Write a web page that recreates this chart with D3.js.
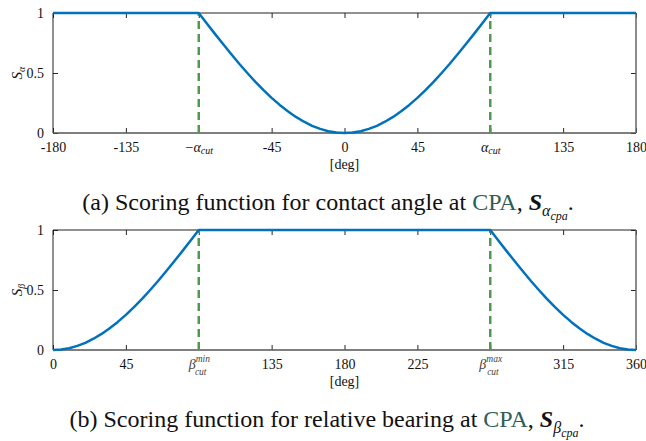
<!DOCTYPE html>
<html><head><meta charset="utf-8">
<script src="https://cdn.jsdelivr.net/npm/d3@7/dist/d3.min.js"></script>
</head>
<body style="margin:0;background:#fff"><svg id="c" width="646" height="441"></svg>
<script>
// Panel (a): contact angle [deg] vs score
const alphaDeg = [-180,-90,-85,-80,-75,-70,-65,-60,-55,-50,-45,-40,-35,-30,-25,-20,-15,-10,-5,0,
                  5,10,15,20,25,30,35,40,45,50,55,60,65,70,75,80,85,90,180];
const alphaScore = [1,1,0.913,0.826,0.741,0.658,0.577,0.5,0.426,0.357,0.293,0.234,0.181,0.134,0.094,0.060,0.034,0.015,0.004,0,
                    0.004,0.015,0.034,0.060,0.094,0.134,0.181,0.234,0.293,0.357,0.426,0.5,0.577,0.658,0.741,0.826,0.913,1,1];
const alphaTicks = [-180,-135,-90,-45,0,45,90,135,180];
const alphaTickLabels = ["-180","-135","CUTNEG","-45","0","45","CUT","135","180"];
const alphaCuts = [-90,90];

// Panel (b): relative bearing [deg] vs score
const betaDeg = [0,5,10,15,20,25,30,35,40,45,50,55,60,65,70,75,80,85,90,
                 270,275,280,285,290,295,300,305,310,315,320,325,330,335,340,345,350,355,360];
const betaScore = [0,0.004,0.015,0.034,0.060,0.094,0.134,0.181,0.234,0.293,0.357,0.426,0.5,0.577,0.658,0.741,0.826,0.913,1,
                   1,0.913,0.826,0.741,0.658,0.577,0.5,0.426,0.357,0.293,0.234,0.181,0.134,0.094,0.060,0.034,0.015,0.004,0];
const betaTicks = [0,45,90,135,180,225,270,315,360];
const betaTickLabels = ["0","45","BMIN","135","180","225","BMAX","315","360"];
const betaCuts = [90,270];

const yTicks = [0,0.5,1];
const yTickLabels = ["0","0.5","1"];

const svg = d3.select("#c");
const X0 = 53, X1 = 636;

function panel(cfg){
  const x = d3.scaleLinear().domain(cfg.domain).range([X0,X1]);
  const y = d3.scaleLinear().domain([0,1]).range([cfg.yb,cfg.yt]);
  const g = svg.append("g");
  const xb = d3.axisBottom(x).tickValues(cfg.ticks).tickSize(-5).tickPadding(9)
     .tickFormat((d,i)=>cfg.labels[i]);
  const gb = g.append("g").attr("transform",`translate(0,${cfg.yb})`).call(xb);
  const xt = d3.axisTop(x).tickValues(cfg.ticks).tickSize(-5).tickFormat("");
  const gt = g.append("g").attr("transform",`translate(0,${cfg.yt})`).call(xt);
  const yl = d3.axisLeft(y).tickValues(yTicks).tickSize(-5).tickPadding(9)
     .tickFormat((d,i)=>yTickLabels[i]);
  const gl = g.append("g").attr("transform",`translate(${X0},0)`).call(yl);
  const yr = d3.axisRight(y).tickValues(yTicks).tickSize(-5).tickFormat("");
  const gr = g.append("g").attr("transform",`translate(${X1},0)`).call(yr);
  [gb,gt,gl,gr].forEach(a=>{
    a.select(".domain").remove();
    a.selectAll(".tick line").attr("stroke","#262626").attr("stroke-width",1);
    a.selectAll(".tick text").attr("fill","#111").attr("font-size","14px");
  });
  // box
  g.append("line").attr("x1",X0).attr("x2",X1).attr("y1",cfg.yt).attr("y2",cfg.yt).attr("stroke","#222").attr("stroke-width",1);
  g.append("line").attr("x1",X0).attr("x2",X0).attr("y1",cfg.yt).attr("y2",cfg.yb).attr("stroke","#222").attr("stroke-width",1);
  g.append("line").attr("x1",X0).attr("x2",X1).attr("y1",cfg.yb).attr("y2",cfg.yb).attr("stroke","#555").attr("stroke-width",1.5);
  g.append("line").attr("x1",X1).attr("x2",X1).attr("y1",cfg.yt).attr("y2",cfg.yb).attr("stroke","#666").attr("stroke-width",1.5);

  // special labels
  gb.selectAll(".tick text").each(function(d,i){
    const t = d3.select(this);
    const lab = cfg.labels[i];
    if(lab==="CUT"||lab==="CUTNEG"){
      t.text("");
      if(lab==="CUTNEG") t.append("tspan").text("\u2212");
      t.append("tspan").attr("font-style","italic").text("\u03b1");
      t.append("tspan").attr("font-style","italic").attr("font-size","10px").attr("dy","2").text("cut");
    } else if(lab==="BMIN"||lab==="BMAX"){
      t.text("").attr("fill","#444");
      t.append("tspan").attr("font-style","italic").text("\u03b2");
      t.append("tspan").attr("font-style","italic").attr("font-size","9.5px").attr("dy","-7").text(lab==="BMIN"?"min":"max");
      t.append("tspan").attr("font-style","italic").attr("font-size","9.5px").attr("dx","-15").attr("dy","13").text("cut");
    }
  });

  // dashed cut lines
  g.selectAll(".cut").data(cfg.cuts).enter().append("line")
    .attr("x1",d=>x(d)).attr("x2",d=>x(d)).attr("y1",y(0)).attr("y2",y(1))
    .attr("stroke","#4e9a4e").attr("stroke-width",2.5).attr("stroke-dasharray","8,5");

  // curve
  const line = d3.line().x((d,i)=>x(cfg.xs[i])).y((d,i)=>y(cfg.ys[i]));
  g.append("path").datum(cfg.xs).attr("d",line).attr("fill","none")
    .attr("stroke","#0072BD").attr("stroke-width",2.5).attr("stroke-linejoin","round");

  // y label
  const yl2 = g.append("text").attr("transform",`translate(22,${(cfg.yt+cfg.yb)/2}) rotate(-90)`)
    .attr("text-anchor","middle").attr("font-size","15px").attr("fill","#111");
  yl2.append("tspan").attr("font-style","italic").text("S");
  yl2.append("tspan").attr("font-style","italic").attr("font-size","10px").attr("dy","3").text(cfg.sym);

  // x label
  g.append("text").attr("x",x(cfg.mid)).attr("y",cfg.yb+36).attr("text-anchor","middle")
    .attr("font-size","14px").attr("fill","#111").text("[deg]");

  // caption
  const cap = svg.append("text").attr("x",cfg.capX).attr("y",cfg.capY).attr("text-anchor","middle")
    .attr("font-size","24px").attr("fill","#111");
  cap.append("tspan").text(cfg.capText+" ");
  cap.append("tspan").attr("fill","#2e5e58").text("CPA");
  cap.append("tspan").text(", ");
  cap.append("tspan").attr("font-style","italic").attr("font-weight","bold").text("S");
  cap.append("tspan").attr("font-style","italic").attr("font-size","16px").attr("dy","6").text(cfg.sym);
  cap.append("tspan").attr("font-style","italic").attr("font-size","12px").attr("dy","4").text("cpa");
  cap.append("tspan").attr("dy","-10").text(".");
}

panel({domain:[-180,180],yt:13,yb:133,ticks:alphaTicks,labels:alphaTickLabels,cuts:alphaCuts,
  xs:alphaDeg,ys:alphaScore,sym:"\u03b1",mid:0,capX:328,capY:210,
  capText:"(a) Scoring function for contact angle at"});
panel({domain:[0,360],yt:230,yb:350,ticks:betaTicks,labels:betaTickLabels,cuts:betaCuts,
  xs:betaDeg,ys:betaScore,sym:"\u03b2",mid:180,capX:327,capY:427,
  capText:"(b) Scoring function for relative bearing at"});

svg.selectAll("text").style("font-family","'Liberation Serif'");
</script></body></html>
